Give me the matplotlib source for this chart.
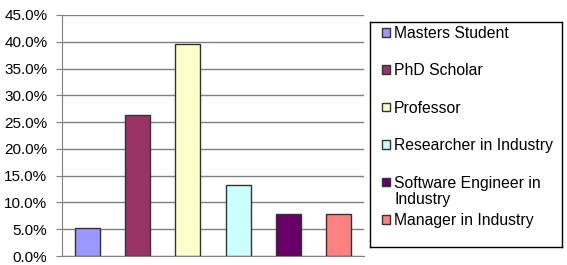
import matplotlib
matplotlib.use('Agg')
import matplotlib.pyplot as plt
from matplotlib.ticker import PercentFormatter
from matplotlib.patches import Rectangle

# survey respondents by role (share of total)
roles = ['Masters Student', 'PhD Scholar', 'Professor', 'Researcher in Industry',
         'Software Engineer in\nIndustry', 'Manager in Industry']
shares = [5.3, 26.3, 39.5, 13.2, 7.9, 7.9]
colors = ['#9999FF', '#993366', '#FFFFCC', '#CCFFFF', '#660066', '#FF8080']

plt.rcParams['font.family'] = ['Liberation Sans', 'DejaVu Sans']

W, H = 567, 265
fig = plt.figure(figsize=(W/100, H/100), dpi=100)
ax = fig.add_axes([62/W, 9/H, 302/W, 241/H])

x = range(len(shares))
ax.bar(x, shares, width=0.5, color=colors, edgecolor='#333333', linewidth=1.0, zorder=3)

ax.set_xlim(-0.5, len(shares) - 0.5)
ax.set_ylim(0, 45)
ax.set_yticks(range(0, 46, 5))
ax.yaxis.set_major_formatter(PercentFormatter(decimals=1))
ax.set_xticks([])
ax.grid(axis='y', color='#808080', linewidth=1.0, zorder=0)
for s in ['top', 'right']:
  ax.spines[s].set_visible(False)
ax.spines['left'].set_color('#808080')
ax.spines['bottom'].set_color('#808080')
ax.tick_params(axis='y', length=4, color='#808080', labelsize=11, pad=6.5, labelcolor='black')

# legend box drawn like the spreadsheet one: evenly spaced slots, long labels overflow
lax = fig.add_axes([370/W, 1 - 247/H, 192/W, 225/H])
lax.set_xlim(0, 192)
lax.set_ylim(225, 0)
lax.set_xticks([])
lax.set_yticks([])
for s in lax.spines.values():
  s.set_color('black')
  s.set_linewidth(1.0)
step = 37.4
for i, (role, c) in enumerate(zip(roles, colors)):
  yc = 10.5 + i * step
  lax.add_patch(Rectangle((11.5, yc - 4.5), 8.5, 8.5, facecolor=c, edgecolor='#333333', linewidth=1.0))
  lax.text(24, yc - 6.5, role, fontsize=11.3, va='top', ha='left', linespacing=1.15)

fig.savefig('out.png', dpi=100)
